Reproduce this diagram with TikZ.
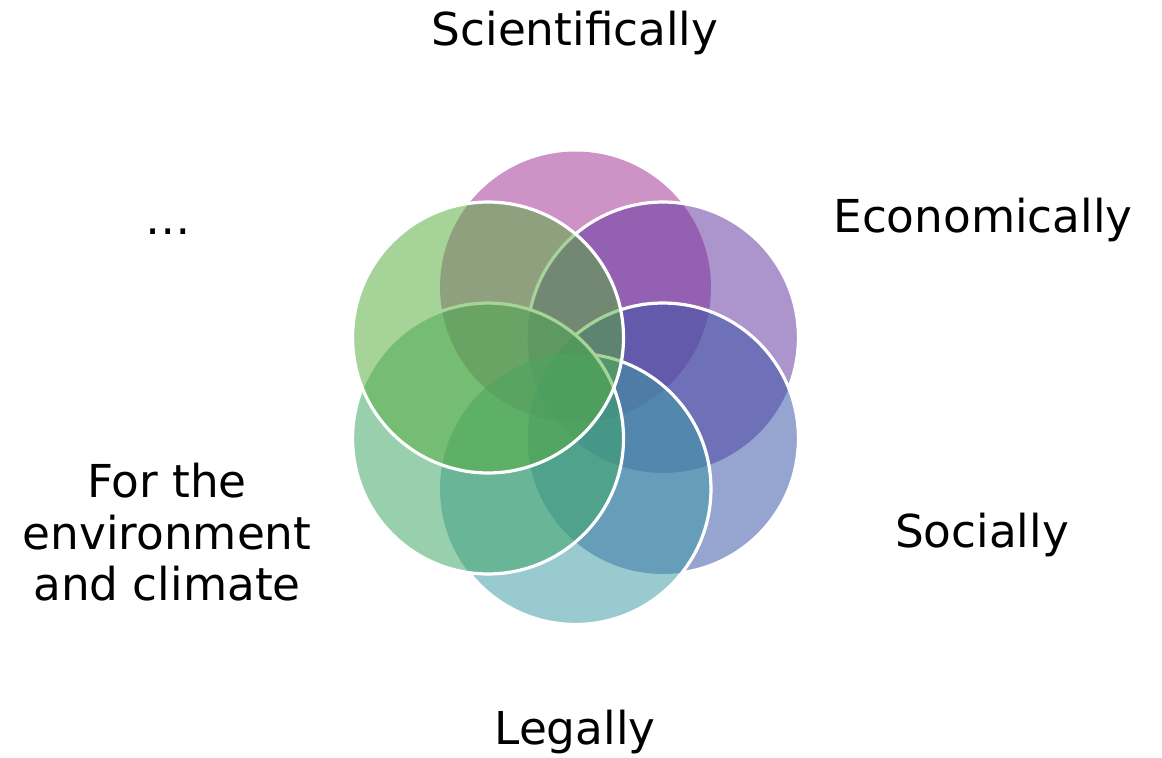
\documentclass[tikz,border=0pt]{standalone}
\usepackage{fontspec}
\setmainfont{DejaVu Sans}
\usepackage{tikz}
\usepackage{xcolor}
\usetikzlibrary{positioning}

\definecolor{scicol}{RGB}{161,51,148}
\definecolor{ecocol}{RGB}{98,53,161}
\definecolor{soccol}{RGB}{57,83,166}
\definecolor{legcol}{RGB}{61,155,166}
\definecolor{envcol}{RGB}{61,166,102}
\definecolor{etccol}{RGB}{87,172,61}
\newcommand{\petalrad}{101.6pt}
% clockwise frame + counterclockwise circle: keeps what lies outside the circle
\newcommand{\cutpetal}[1]{\clip (-20,-20) -- (-20,777) -- (1182,777) -- (1182,-20) -- cycle (#1) circle [radius=\petalrad];}
\tikzset{petal/.style={fill opacity=0.53},
  rim/.style={white, line width=2.4pt},
  lbl/.style={font=\fontsize{34}{38.5}\selectfont, inner sep=0pt}}

\begin{document}
\begin{tikzpicture}[x=0.75pt,y=0.75pt]
\useasboundingbox (0,0) rectangle (1162,757);
\coordinate (hub) at (575.5,369);
\path (hub) ++(90:101) coordinate (sci);
\path (hub) ++(30:101) coordinate (eco);
\path (hub) ++(-30:101) coordinate (soc);
\path (hub) ++(-90:101) coordinate (leg);
\path (hub) ++(-150:101) coordinate (env);
\path (hub) ++(150:101) coordinate (etc);
% fills, back to front
\fill [scicol, petal] (sci) circle [radius=\petalrad];
\fill [ecocol, petal] (eco) circle [radius=\petalrad];
\fill [soccol, petal] (soc) circle [radius=\petalrad];
\fill [legcol, petal] (leg) circle [radius=\petalrad];
\fill [envcol, petal] (env) circle [radius=\petalrad];
% white rims, hidden under the later circles
\begin{scope}
\cutpetal{soc} \cutpetal{leg} \cutpetal{env}
\draw [rim] (eco) circle [radius=\petalrad];
\end{scope}
\begin{scope}
\cutpetal{leg} \cutpetal{env}
\draw [rim] (soc) circle [radius=\petalrad];
\end{scope}
\begin{scope}
\cutpetal{env}
\draw [rim] (leg) circle [radius=\petalrad];
\end{scope}
\draw [rim] (env) circle [radius=\petalrad];
% last circle on top
\fill [etccol, petal] (etc) circle [radius=\petalrad];
\draw [rim] (etc) circle [radius=\petalrad];
% labels
\node [lbl, anchor=base] (scitext) at (575,711) {Scientifically};
\node [lbl, anchor=base] (ecotext) at (983,524) {Economically};
\node [lbl, anchor=base] (soctext) at (982,210) {Socially};
\node [lbl, anchor=base] (legtext) at (575,13) {Legally};
\node [lbl, anchor=north, align=center] (envtext) at (167,294) {For the\\environment\\and climate};
\node [lbl, anchor=base] (etctext) at (168,522) {…};
\end{tikzpicture}
\end{document}
